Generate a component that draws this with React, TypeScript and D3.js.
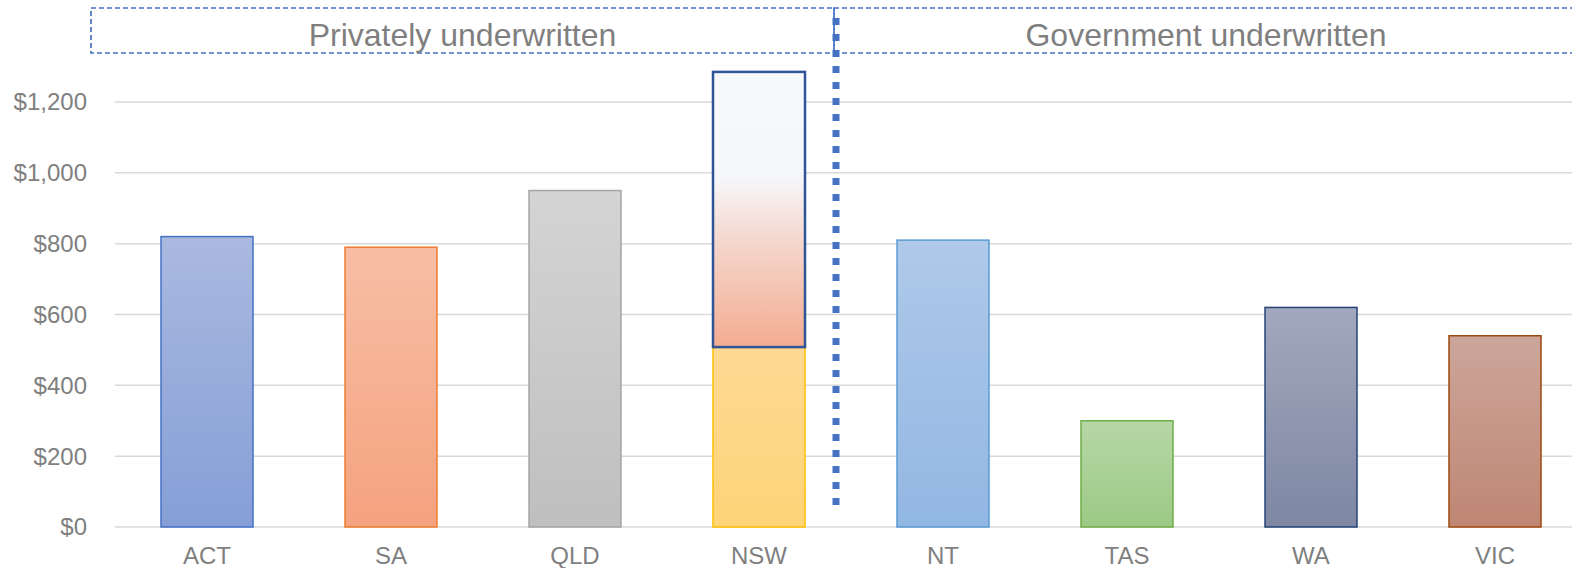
import React, { useEffect, useRef } from 'react';
import * as d3 from 'd3';

const categories = ['ACT', 'SA', 'QLD', 'NSW', 'NT', 'TAS', 'WA', 'VIC'];
const costs = [820, 790, 950, 508, 810, 300, 620, 540];
// NSW carries an extra range on top of its base bar
const nswRange = [508, 1285];
const yTicks = [0, 200, 400, 600, 800, 1000, 1200];
const groupLabels = ['Privately underwritten', 'Government underwritten'];

const fills: [string, string][] = [
  ['#aab9e0', '#859fd6'],
  ['#f7bea5', '#f5a27f'],
  ['#d4d4d4', '#bfbfbf'],
  ['#fed994', '#fed478'],
  ['#afc9e9', '#92b7e3'],
  ['#b6d7a6', '#9cc985'],
  ['#a2a8bd', '#7e87a3'],
  ['#cca69b', '#bf8673'],
];
const strokes = ['#4472c4', '#ed7d31', '#a5a5a5', '#ffc000', '#5b9bd5', '#70ad47', '#264478', '#9e480e'];

const W = 1572;
const H = 568;
const FONT = "Arial, 'Liberation Sans', sans-serif";

const App: React.FC = () => {
  const svgRef = useRef<SVGSVGElement>(null);

  useEffect(() => {
    if (!svgRef.current) return;
    const svg = d3.select(svgRef.current);
    svg.selectAll('*').remove();

    const x = d3.scaleBand<string>().domain(categories).range([115, 1587]).paddingInner(0.5).paddingOuter(0.25);
    const y = d3.scaleLinear().domain([0, 1200]).range([527, 102]);

    const defs = svg.append('defs');
    fills.forEach((f, i) => {
      const g = defs.append('linearGradient').attr('id', `g${i}`).attr('x1', 0).attr('y1', 0).attr('x2', 0).attr('y2', 1);
      g.append('stop').attr('offset', '0%').attr('stop-color', f[0]);
      g.append('stop').attr('offset', '100%').attr('stop-color', f[1]);
    });
    const ng = defs.append('linearGradient').attr('id', 'gnsw').attr('x1', 0).attr('y1', 0).attr('x2', 0).attr('y2', 1);
    ng.append('stop').attr('offset', '0%').attr('stop-color', '#f6f8fc');
    ng.append('stop').attr('offset', '38%').attr('stop-color', '#f6f7fb');
    ng.append('stop').attr('offset', '62%').attr('stop-color', '#f5d6cc');
    ng.append('stop').attr('offset', '100%').attr('stop-color', '#f4ac91');

    // Grid
    svg.append('g')
      .selectAll('line')
      .data(yTicks)
      .enter()
      .append('line')
      .attr('x1', 115)
      .attr('x2', W)
      .attr('y1', d => y(d))
      .attr('y2', d => y(d))
      .attr('stroke', '#d9d9d9')
      .attr('stroke-width', 1.5);

    // Y labels
    svg.append('g')
      .selectAll('text')
      .data(yTicks)
      .enter()
      .append('text')
      .attr('x', 87)
      .attr('y', d => y(d))
      .attr('dy', '0.35em')
      .attr('text-anchor', 'end')
      .attr('fill', '#7f7f7f')
      .style('font-family', FONT)
      .style('font-size', '24px')
      .text(d => d3.format('$,')(d));

    // X labels
    svg.append('g')
      .selectAll('text')
      .data(categories)
      .enter()
      .append('text')
      .attr('x', d => x(d)! + x.bandwidth() / 2)
      .attr('y', 564)
      .attr('text-anchor', 'middle')
      .attr('fill', '#7f7f7f')
      .style('font-family', FONT)
      .style('font-size', '24px')
      .text(d => d);

    // Bars
    svg.append('g')
      .selectAll('rect')
      .data(categories)
      .enter()
      .append('rect')
      .attr('x', d => x(d)!)
      .attr('y', (d, i) => y(costs[i]))
      .attr('width', x.bandwidth())
      .attr('height', (d, i) => y(0) - y(costs[i]))
      .attr('fill', (d, i) => `url(#g${i})`)
      .attr('stroke', (d, i) => strokes[i])
      .attr('stroke-width', 1.5);

    // NSW range box
    svg.append('rect')
      .attr('x', x('NSW')!)
      .attr('y', y(nswRange[1]))
      .attr('width', x.bandwidth())
      .attr('height', y(nswRange[0]) - y(nswRange[1]))
      .attr('fill', 'url(#gnsw)')
      .attr('stroke', '#2f5597')
      .attr('stroke-width', 2.5);

    // Group header boxes
    const boxes = [
      { x0: 91, x1: 834 },
      { x0: 834, x1: 1578 },
    ];
    boxes.forEach((b, i) => {
      svg.append('rect')
        .attr('x', b.x0)
        .attr('y', 8)
        .attr('width', b.x1 - b.x0)
        .attr('height', 45)
        .attr('fill', 'none')
        .attr('stroke', '#4472c4')
        .attr('stroke-width', 1.7)
        .attr('stroke-dasharray', '5 3');
      svg.append('text')
        .attr('x', (b.x0 + b.x1) / 2)
        .attr('y', 46)
        .attr('text-anchor', 'middle')
        .attr('fill', '#7f7f7f')
        .style('font-family', FONT)
        .style('font-size', '32px')
        .text(groupLabels[i]);
    });

    // Divider
    svg.append('line')
      .attr('x1', 836)
      .attr('x2', 836)
      .attr('y1', 18)
      .attr('y2', 505)
      .attr('stroke', '#4472c4')
      .attr('stroke-width', 7)
      .attr('stroke-dasharray', '7 9');
  }, []);

  return (
    <div style={{ position: 'absolute', left: 0, top: 0 }}>
      <svg ref={svgRef} width={W} height={H} style={{ display: 'block', background: '#fff' }} />
    </div>
  );
};

export default App;
